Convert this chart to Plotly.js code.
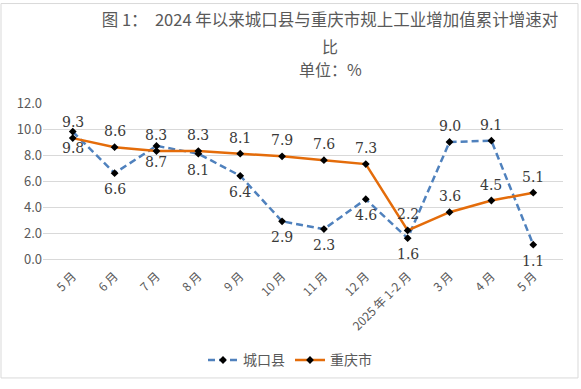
<!DOCTYPE html>
<html><head><meta charset="utf-8">
<script src="https://cdn.plot.ly/plotly-3.0.1.min.js"></script>
<style>html,body{margin:0;padding:0;background:#fff}#chart{width:581px;height:389px}</style>
</head><body><div id="chart"></div>
<script>
const categories = ['5 月','6 月','7 月','8 月','9 月','10 月','11 月','12 月','2025 年 1-2 月','3 月','4 月','5 月'];
const xKeys = ['c1','c2','c3','c4','c5','c6','c7','c8','c9','c10','c11','c12'];
const chengkou = [9.8, 6.6, 8.7, 8.1, 6.4, 2.9, 2.3, 4.6, 1.6, 9.0, 9.1, 1.1];
const chongqing = [9.3, 8.6, 8.3, 8.3, 8.1, 7.9, 7.6, 7.3, 2.2, 3.6, 4.5, 5.1];
// 1 = label above the point, -1 = label below
const chengkouLabelSide = [-1,-1,-1,-1,-1,-1,-1,-1,-1,1,1,-1];
const chongqingLabelSide = [1,1,1,1,1,1,1,1,1,1,1,1];
const yTicks = [0,2,4,6,8,10,12];

const gray = '#595959';
const labelFont = {family:'DejaVu Serif, serif', size:14, color:'#3a3a3a'};
const traces = [
  {name:'城口县', x:xKeys, y:chengkou, mode:'lines+markers', type:'scatter',
   line:{color:'#4f81bd', width:2.5, dash:'7px,4px'},
   marker:{symbol:'diamond', size:6, color:'#000'}, cliponaxis:false},
  {name:'重庆市', x:xKeys, y:chongqing, mode:'lines+markers', type:'scatter',
   line:{color:'#e46c0a', width:2.5},
   marker:{symbol:'diamond', size:6, color:'#000'}, cliponaxis:false}
];
function labels(vals, sides){
  return vals.map((v,i)=>({x:xKeys[i], y:v, xref:'x', yref:'y', text:v.toFixed(1), showarrow:false,
    yshift:16*sides[i], font:labelFont, xanchor:'center', yanchor:'middle'}));
}
const annotations = [
  {text:'比', xref:'paper', yref:'paper', x:(330-43)/520, y:(263-45)/160, showarrow:false, font:{size:16,color:gray}, xanchor:'center', yanchor:'middle'},
  {text:'单位：%', xref:'paper', yref:'paper', x:(330-43)/520, y:(263-68)/160, showarrow:false, font:{size:16,color:gray}, xanchor:'center', yanchor:'middle'}
].concat(labels(chengkou, chengkouLabelSide), labels(chongqing, chongqingLabelSide));

const layout = {
  width:581, height:389,
  margin:{l:43, r:18, t:103, b:126},
  paper_bgcolor:'#fff', plot_bgcolor:'#fff',
  font:{family:'Noto Sans CJK SC, sans-serif', color:gray},
  title:{text:'图 1：  2024 年以来城口县与重庆市规上工业增加值累计增速对', x:0.568, xanchor:'center', y:0.948, yanchor:'middle',
         xref:'container', yref:'container', font:{size:16.5, color:gray, family:'Noto Sans CJK SC, sans-serif'}},
  annotations:annotations,
  xaxis:{type:'category', tickmode:'array', tickvals:xKeys, ticktext:categories, tickangle:-45, ticklabelstandoff:7,
         showgrid:false, showline:false, zeroline:false, ticks:'', tickfont:{size:12,color:gray}, fixedrange:true},
  yaxis:{range:[0,12], tickvals:yTicks, ticktext:yTicks.map(v=>v.toFixed(1)), showgrid:true, gridcolor:'#d9d9d9', gridwidth:1,
         zeroline:true, zerolinecolor:'#d9d9d9', zerolinewidth:1, showline:false, ticks:'', tickfont:{size:13,color:gray}, fixedrange:true},
  showlegend:true,
  legend:{orientation:'h', x:(290-43)/520, xanchor:'center', y:(263-367)/160, yanchor:'middle', font:{size:14,color:gray}, bgcolor:'rgba(0,0,0,0)'},
  shapes:[{type:'rect', xref:'paper', yref:'paper', x0:(1-43)/520, x1:(578-43)/520, y0:(263-385)/160, y1:(263-1)/160,
           line:{color:'#d9d9d9', width:1}, fillcolor:'rgba(0,0,0,0)', layer:'below'}]
};
Plotly.newPlot('chart', traces, layout, {displayModeBar:false, staticPlot:true});
</script></body></html>
